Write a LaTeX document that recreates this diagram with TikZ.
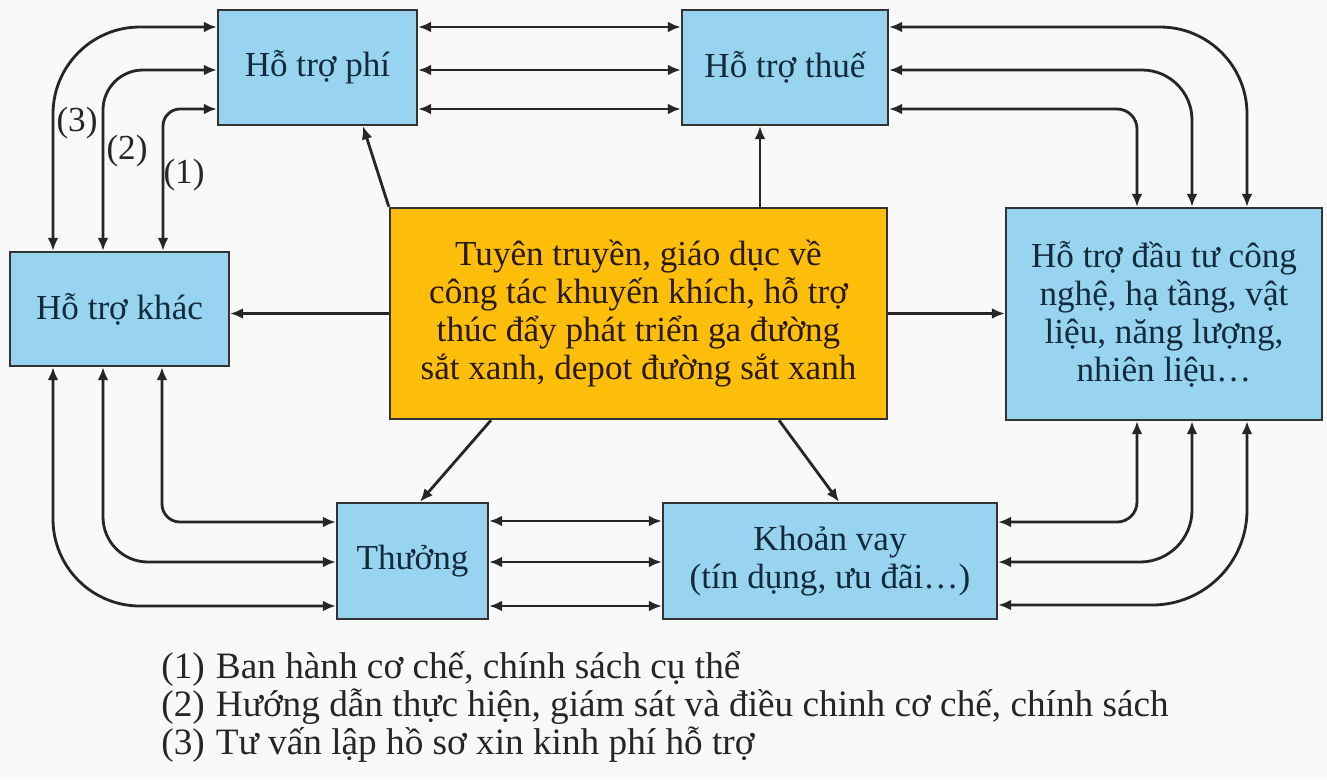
\documentclass[tikz,border=0pt]{standalone}
\usepackage{fontspec}
\setmainfont{Liberation Serif}
\usepackage{xcolor}
\usetikzlibrary{arrows.meta}

\definecolor{boxblue}{RGB}{152,212,240}
\definecolor{boxorange}{RGB}{255,190,10}
\definecolor{inkblue}{RGB}{18,42,60}
\definecolor{inkbrown}{RGB}{40,26,4}
\definecolor{paper}{RGB}{249,249,249}

\begin{document}
\begin{tikzpicture}[x=0.02cm, y=-0.02cm, >={Latex[length=2.6mm,width=2.2mm]},
  main/.style = {rectangle, draw=black!80, fill=boxblue, text=inkblue, line width=1.4pt, align=center, inner sep=0pt, font=\fontsize{20}{21.6}\selectfont},
  core/.style = {main, fill=boxorange, text=inkbrown},
  link/.style = {<->, line width=1.6pt, draw=black!85},
  push/.style = {->, line width=1.6pt, draw=black!85},
  tag/.style = {font=\fontsize{20}{21.6}\selectfont, text=black!85, inner sep=0pt}]

\fill[paper] (0,0) rectangle (1327,779);
\useasboundingbox (0,0) rectangle (1327,779);

% boxes
\node[main, minimum width=3.98cm, minimum height=2.3cm] (phi) at (317.5,67.5) {Hỗ trợ phí};
\node[main, minimum width=4.12cm, minimum height=2.3cm] (thue) at (785,67.5) {Hỗ trợ thuế};
\node[main, minimum width=4.38cm, minimum height=2.28cm] (khac) at (119.5,309) {Hỗ trợ khác};
\node[core, minimum width=9.94cm, minimum height=4.22cm] (tuyen) at (638.5,313.5) {Tuyên truyền, giáo dục về\\công tác khuyến khích, hỗ trợ\\thúc đẩy phát triển ga đường\\sắt xanh, depot đường sắt xanh};
\node[main, minimum width=6.32cm, minimum height=4.24cm] (dautu) at (1164,314) {Hỗ trợ đầu tư công\\nghệ, hạ tầng, vật\\liệu, năng lượng,\\nhiên liệu\dots};
\node[main, minimum width=3.02cm, minimum height=2.32cm] (thuong) at (412.5,561) {Thưởng};
\node[main, minimum width=6.68cm, minimum height=2.32cm] (vay) at (830,561) {Khoản vay\\(tín dụng, ưu đãi\dots)};

% from the centre
\path
 (tuyen.north west) edge[push] (phi.south -| 363,0)
 (tuyen.north -| 760,0) edge[push] (thue.south -| 760,0)
 (tuyen.west) edge[push] (khac.east |- tuyen.west)
 (tuyen.east) edge[push] (dautu.west |- tuyen.east)
 (tuyen.south -| 491,0) edge[push] (thuong.north -| 420,0)
 (tuyen.south -| 779,0) edge[push] (vay.north -| 839,0);

% straight links
\foreach \yy in {27,70,109}
  \draw[link] (phi.east |- 0,\yy) -- (thue.west |- 0,\yy);
\foreach \yy in {521,562,606}
  \draw[link] (thuong.east |- 0,\yy) -- (vay.west |- 0,\yy);

% bent links
\foreach \yy/\xx/\rr in {27/53/1.74, 70/103/0.8, 109/163/0.34}
  \draw[link, rounded corners=\rr cm] (phi.west |- 0,\yy) -| (khac.north -| \xx,0);
\foreach \yy/\xx/\rr in {27/1247/1.74, 70/1192/1.0, 109/1137/0.4}
  \draw[link, rounded corners=\rr cm] (thue.east |- 0,\yy) -| (dautu.north -| \xx,0);
\foreach \yy/\xx/\rr in {606/53/1.74, 562/103/0.9, 522/162/0.36}
  \draw[link, rounded corners=\rr cm] (khac.south -| \xx,0) |- (thuong.west |- 0,\yy);
\foreach \yy/\xx/\rr in {605/1247/1.9, 562/1192/1.04, 522/1137/0.4}
  \draw[link, rounded corners=\rr cm] (dautu.south -| \xx,0) |- (vay.east |- 0,\yy);

\node[tag] (n3) at (77,123) {(3)};
\node[tag] (n2) at (127,151) {(2)};
\node[tag] (n1) at (184,175) {(1)};

% legend
\node[tag, anchor=north west, align=left, font=\fontsize{21.2}{21.8}\selectfont] (legend) at (161,651) {%
  (1)\hspace{0.3em}Ban hành cơ chế, chính sách cụ thể\\
  (2)\hspace{0.3em}Hướng dẫn thực hiện, giám sát và điều chinh cơ chế, chính sách\\
  (3)\hspace{0.3em}Tư vấn lập hồ sơ xin kinh phí hỗ trợ};
\end{tikzpicture}
\end{document}
